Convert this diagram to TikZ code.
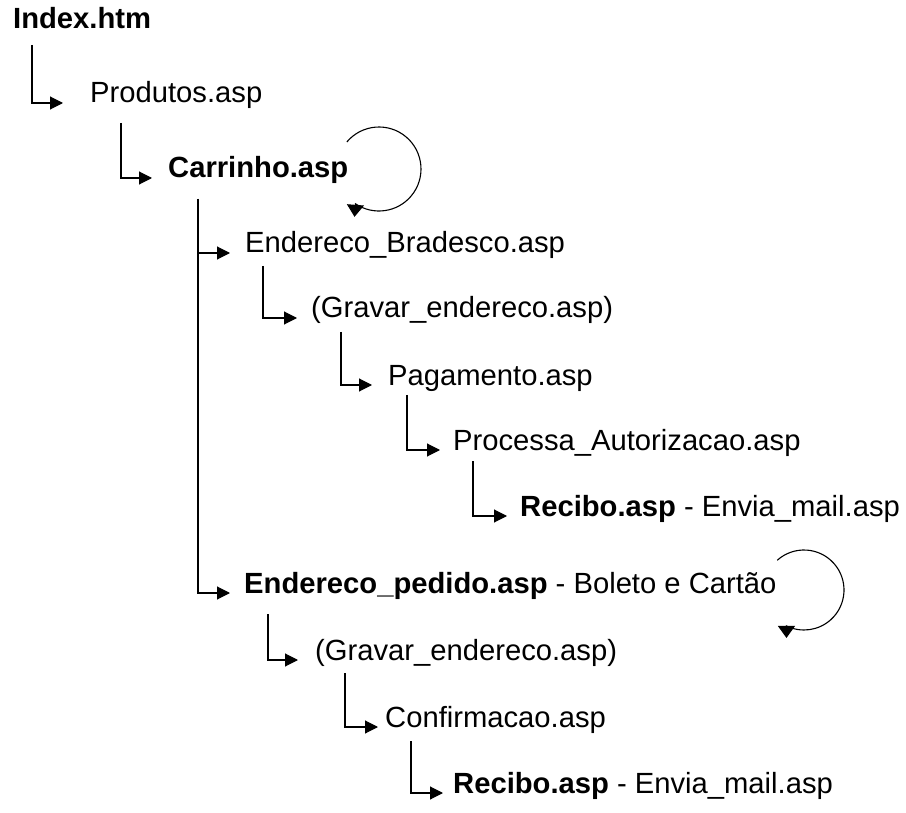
\documentclass[tikz,border=0pt]{standalone}
\usepackage{fontspec}
\setmainfont{Liberation Sans}
\usepackage{tikz}
\usetikzlibrary{arrows.meta}

\tikzset{
  page/.style={anchor=base west, inner sep=0pt, font=\fontsize{29.2}{34}\selectfont},
  elbow/.style={-{Triangle[length=13pt,width=13pt]}, line width=1.1pt},
  selfloop/.style={-{Triangle[length=12pt,width=17pt]}, line width=1.1pt},
}

\begin{document}
\begin{tikzpicture}[x=1pt,y=1pt]
    \useasboundingbox (0,0) rectangle (906,-813);
    % pages of the site
    \node[page] (idx)   at (13,-29)  {\textbf{Index.htm}};
    \node[page] (prod)  at (90,-103) {Produtos.asp};
    \node[page] (carr)  at (168,-178) {\textbf{Carrinho.asp}};
    \node[page] (endb)  at (245,-253) {Endereco\_Bradesco.asp};
    \node[page] (grava) at (311,-318) {(Gravar\_endereco.asp)};
    \node[page] (pag)   at (388,-385) {Pagamento.asp};
    \node[page] (proc)  at (453,-450) {Processa\_Autorizacao.asp};
    \node[page] (reca)  at (520,-516) {\textbf{Recibo.asp} - Envia\_mail.asp};
    \node[page] (endp)  at (244,-593) {\textbf{Endereco\_pedido.asp} - Boleto e Cartão};
    \node[page] (gravb) at (315,-660) {(Gravar\_endereco.asp)};
    \node[page] (conf)  at (385,-727) {Confirmacao.asp};
    \node[page] (recb)  at (453,-793) {\textbf{Recibo.asp} - Envia\_mail.asp};

    % links parent -> child
    \foreach \a/\b/\dx/\dy/\g in {idx/prod/19/16/27, prod/carr/31/20/16,
            carr/endb/30/21/15, carr/endp/30/21/14, endb/grava/18/13/14,
            grava/pag/30/14/16, pag/proc/19/10/13, proc/reca/20/11/13,
            endp/gravb/24/21/17, gravb/conf/30/13/7, conf/recb/26/14/10}
        \draw[elbow] ([xshift=\dx pt,yshift=-\dy pt]\a.base west) |- ([xshift=-\g pt]\b.base west);

    % pages that call themselves
    \draw[selfloop] (379,-169) ++(140:42) arc[start angle=140, end angle=-124, radius=42] -- ++(-1,-13);
    \draw[selfloop] (804,-590) ++(132:40) arc[start angle=132, end angle=-116, radius=40] -- ++(0,-12);
\end{tikzpicture}
\end{document}
